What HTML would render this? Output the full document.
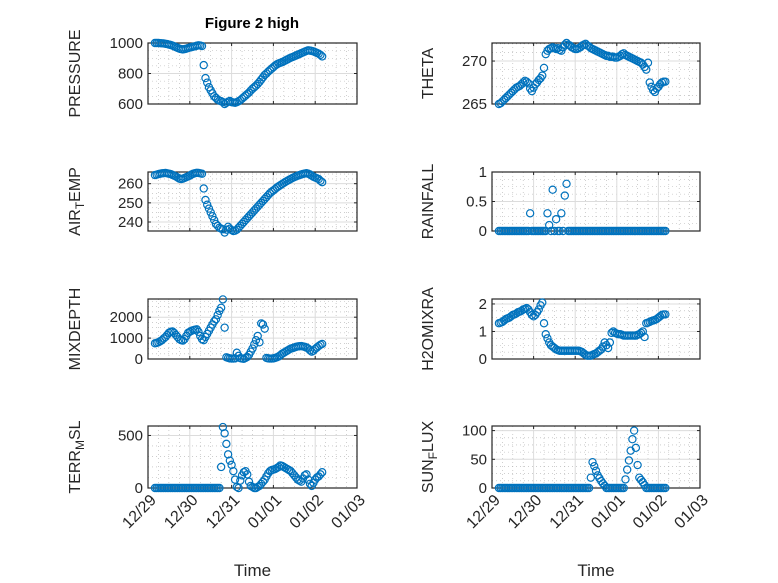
<!DOCTYPE html>
<html><head><meta charset="utf-8"><style>
html,body{margin:0;padding:0;background:#fff}
svg{display:block;font-family:"Liberation Sans","DejaVu Sans",sans-serif}
</style></head><body>
<svg id="fig" width="778" height="583" viewBox="0 0 778 583">
<rect width="778" height="583" fill="#fff"/>
<text x="252" y="28" text-anchor="middle" font-weight="bold" font-size="15" fill="#000">Figure 2 high</text>
</svg>
<script>
const startHour = 4;
const xTickLabels = ["12/29","12/30","12/31","01/01","01/02","01/03"];
const pressure = [1000,1000,1000,999,998,997,995,993,990,987,983,978,
973,968,963,960,958,960,963,967,970,973,976,978,
982,985,983,980,
855,770,740,710,690,670,650,640,628,622,618,612,
600,608,615,620,612,610,608,612,618,625,635,645,
655,665,675,688,700,710,720,732,745,760,775,790,
800,812,822,832,842,852,860,866,870,874,880,886,
892,898,904,908,913,918,923,928,933,938,943,948,
952,950,948,945,940,935,930,922,912];
const airTemp = [264.5,264.7,265,265.2,265.4,265.5,265.6,265.4,265.2,265,264.6,264.2,
263.8,263.2,262.6,262.4,262.6,263,263.4,263.8,264.2,264.8,265.2,265.5,
265.7,265.6,265.4,265.2,
257.5,251.5,249,247,245,243,241,239,238,237,236.5,236.2,
234.5,236,237.5,236.5,235.8,235.3,235.5,236,237,238,239,240,
241,242,243,244,245,246,247,248,249,250,251,252,
253,254,255,255.8,256.5,257.2,258,258.6,259.2,259.8,260.4,261,
261.5,262,262.5,263,263.4,263.8,264.2,264.5,264.8,265.1,265.3,265.5,
265.2,264.8,264.2,263.6,263.2,262.8,262.4,261.5,260.8];
const mixDepth = [750,770,800,850,900,980,1050,1150,1250,1300,1320,1250,
1150,1050,950,900,880,950,1100,1250,1300,1350,1380,1400,
1420,1300,1100,950,
900,1050,1200,1350,1500,1650,1800,1900,2100,2300,2450,2850,
1500,80,50,30,20,20,30,300,150,40,20,10,
50,100,200,350,500,700,900,1100,800,1700,1650,1450,
50,30,20,20,30,50,80,120,180,250,300,350,
400,450,500,520,550,580,600,610,620,600,580,550,
500,420,350,400,480,550,620,680,720];
const terrMsl = [0,0,0,0,0,0,0,0,0,0,0,0,
0,0,0,0,0,0,0,0,0,0,0,0,
0,0,0,0,0,0,0,0,0,0,0,0,0,0,
200,580,520,420,320,260,220,160,80,10,0,70,
120,150,160,130,60,20,10,0,0,10,20,40,
60,80,110,140,160,170,175,180,190,200,215,210,
200,190,180,170,160,140,120,100,80,70,60,90,
120,130,80,40,20,50,80,100,110,130,150];
const theta = [265,265.1,265.3,265.5,265.7,265.9,266.1,266.3,266.5,266.7,266.9,267,
267.1,267.3,267.5,267.7,267.6,267.4,266.8,266.5,266.9,267.3,267.5,267.8,
268,268.3,269.2,270.8,
271.2,271.4,271.5,271.6,271.5,271.4,271.5,271.3,271.2,271.6,271.9,272.1,
271.9,271.8,271.6,271.5,271.4,271.4,271.5,271.6,271.8,271.9,272,271.8,
271.7,271.5,271.4,271.3,271.2,271.1,271,270.9,270.8,270.7,270.6,270.6,
270.5,270.5,270.5,270.4,270.4,270.5,270.6,270.8,270.9,270.7,270.6,270.5,
270.4,270.3,270.2,270.1,270,269.9,269.8,269.6,269.3,269,269.8,267.5,
267,266.6,266.4,266.8,267,267.3,267.5,267.6,267.6];
const rainfall = [0,0,0,0,0,0,0,0,0,0,0,0,
0,0,0,0,0,0,0.3,0,0,0,0,0,
0,0,0,0,0.3,0.1,0,0.7,0,0.2,0,0,
0.3,0,0.6,0.8,0,0,0,0,0,0,0,0,
0,0,0,0,0,0,0,0,0,0,0,0,
0,0,0,0,0,0,0,0,0,0,0,0,
0,0,0,0,0,0,0,0,0,0,0,0,
0,0,0,0,0,0,0,0,0,0,0,0,
0];
const h2oMixra = [1.3,1.32,1.35,1.4,1.45,1.48,1.5,1.55,1.6,1.62,1.65,1.7,
1.72,1.75,1.8,1.82,1.85,1.8,1.7,1.6,1.55,1.6,1.7,1.8,
1.95,2.05,1.3,0.9,
0.75,0.6,0.5,0.45,0.4,0.35,0.32,0.3,0.3,0.3,0.3,0.3,
0.3,0.3,0.3,0.3,0.3,0.3,0.3,0.28,0.25,0.2,0.15,0.12,
0.12,0.12,0.15,0.18,0.2,0.25,0.3,0.35,0.45,0.6,0.5,0.4,
0.6,0.95,1.0,0.95,0.92,0.9,0.9,0.88,0.85,0.85,0.85,0.85,
0.85,0.85,0.85,0.85,0.88,0.9,0.95,1.0,0.8,1.3,1.32,1.35,
1.38,1.4,1.42,1.45,1.5,1.55,1.6,1.62,1.62];
const sunFlux = [0,0,0,0,0,0,0,0,0,0,0,0,
0,0,0,0,0,0,0,0,0,0,0,0,
0,0,0,0,0,0,0,0,0,0,0,0,
0,0,0,0,0,0,0,0,0,0,0,0,
0,0,0,0,0,18,45,38,30,22,17,12,
8,4,0,0,0,0,0,0,0,0,0,0,
0,15,32,48,65,85,100,70,40,18,14,10,
5,0,0,0,0,0,0,0,0,0,0,0,
0];

const pressureTicks = [600,800,1000];
const airTempTicks = [240,250,260];
const mixDepthTicks = [0,1000,2000];
const terrMslTicks = [0,500];
const thetaTicks = [265,270];
const rainfallTicks = [0,0.5,1];
const h2oTicks = [0,1,2];
const sunTicks = [0,50,100];

const NS = "http://www.w3.org/2000/svg";
const svg = document.getElementById('fig');
function mk(tag, attrs, parent){const e=document.createElementNS(NS,tag);for(const k in attrs)e.setAttribute(k,attrs[k]);(parent||svg).appendChild(e);return e;}

const cols = [{x0:148,x1:357,lx:80},{x0:492,x1:700,lx:433}];
const rows = [{y0:43,y1:104},{y0:172,y1:231},{y0:299,y1:359},{y0:426,y1:488}];

function panel(name, c, r, vals, ylo, yhi, ticks, minorStep, label, showX){
  const col=cols[c], row=rows[r];
  const g = mk('g',{});
  
  
  const xs = d => col.x0 + (d/5)*(col.x1-col.x0);
  const ys = v => row.y1 - (v-ylo)/(yhi-ylo)*(row.y1-row.y0);
  for(let d=0; d<=5; d+=0.25){ if(Math.abs(d-Math.round(d))<1e-6) continue;
    mk('line',{x1:xs(d),x2:xs(d),y1:row.y0,y2:row.y1,stroke:'#b0b0b0','stroke-width':0.6,'stroke-dasharray':'1 3'},g);}
  for(let v=Math.ceil(ylo/minorStep)*minorStep; v<=yhi; v+=minorStep){
    if(ticks.some(t=>Math.abs(t-v)<1e-9)) continue;
    mk('line',{x1:col.x0,x2:col.x1,y1:ys(v),y2:ys(v),stroke:'#b0b0b0','stroke-width':0.6,'stroke-dasharray':'1 3'},g);}
  for(let d=1; d<5; d++) mk('line',{x1:xs(d),x2:xs(d),y1:row.y0,y2:row.y1,stroke:'#dcdcdc','stroke-width':1},g);
  ticks.forEach(t=>{ if(t>ylo && t<yhi) mk('line',{x1:col.x0,x2:col.x1,y1:ys(t),y2:ys(t),stroke:'#dcdcdc','stroke-width':1},g);});
  for(let d=0; d<=5; d++){
    mk('line',{x1:xs(d),x2:xs(d),y1:row.y1,y2:row.y1-3,stroke:'#262626','stroke-width':1},g);
    mk('line',{x1:xs(d),x2:xs(d),y1:row.y0,y2:row.y0+3,stroke:'#262626','stroke-width':1},g);
  }
  ticks.forEach(t=>{
    mk('line',{x1:col.x0,x2:col.x0+3,y1:ys(t),y2:ys(t),stroke:'#262626','stroke-width':1},g);
    mk('line',{x1:col.x1,x2:col.x1-3,y1:ys(t),y2:ys(t),stroke:'#262626','stroke-width':1},g);
    const tl = mk('text',{x:col.x0-5,y:ys(t)+5,'text-anchor':'end','font-size':15,fill:'#262626'},g);
    
    
    tl.textContent = String(t);
  });
  mk('rect',{x:col.x0,y:row.y0,width:col.x1-col.x0,height:row.y1-row.y0,fill:'none',stroke:'#262626','stroke-width':1.2},g);
  vals.forEach((v,i)=>{
    const m = mk('circle',{cx:xs((startHour+i)/24),cy:ys(v),r:3.6,fill:'none',stroke:'#0072BD','stroke-width':1.2},g);
    
    
  });
  const cy=(row.y0+row.y1)/2;
  const yl = mk('text',{x:col.lx,y:cy,'text-anchor':'middle','font-size':16,fill:'#262626',transform:`rotate(-90 ${col.lx} ${cy})`},g);
  
  
  label.forEach(p=>{
    const ts = mk('tspan',{},yl);
    if(p[1]){ ts.setAttribute('font-size','12'); ts.setAttribute('dy','4'); }
    else if(p[2]) ts.setAttribute('dy','-4');
    ts.textContent=p[0];
  });
  if(showX){
    for(let d=0; d<=5; d++){
      const x=xs(d)+9, y=row.y1+13;
      const t = mk('text',{x:x,y:y,'text-anchor':'end','font-size':16,fill:'#262626',transform:`rotate(-45 ${x} ${y})`},g);
      
      
      t.textContent = xTickLabels[d];
    }
    const xl = mk('text',{x:(col.x0+col.x1)/2,y:576,'text-anchor':'middle','font-size':17,fill:'#262626'},g);
    
    
    xl.textContent='Time';
  }
}
panel('pressure',0,0,pressure,600,1000,pressureTicks,50,[['PRESSURE']],false);
panel('air-temp',0,1,airTemp,235.3,266.1,airTempTicks,2.5,[['AIR'],['T',1],['EMP',0,1]],false);
panel('mixdepth',0,2,mixDepth,0,2870,mixDepthTicks,250,[['MIXDEPTH']],false);
panel('terr-msl',0,3,terrMsl,0,590,terrMslTicks,100,[['TERR'],['M',1],['SL',0,1]],true);
panel('theta',1,0,theta,265,272.1,thetaTicks,1,[['THETA']],false);
panel('rainfall',1,1,rainfall,0,1,rainfallTicks,0.125,[['RAINFALL']],false);
panel('h2omixra',1,2,h2oMixra,0,2.18,h2oTicks,0.25,[['H2OMIXRA']],false);
panel('sun-flux',1,3,sunFlux,0,108,sunTicks,12.5,[['SUN'],['F',1],['LUX',0,1]],true);
</script>
</body></html>
